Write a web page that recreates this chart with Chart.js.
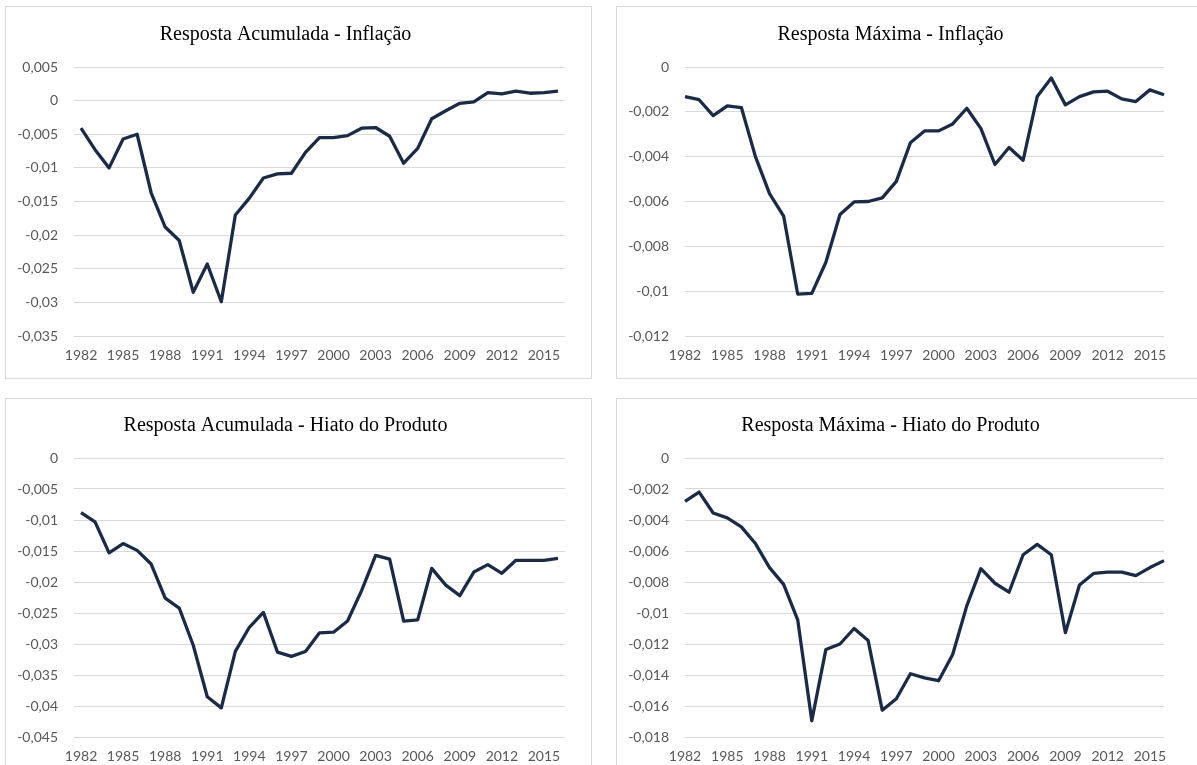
<!DOCTYPE html>
<html>
<head>
<meta charset="utf-8">
<script src="https://cdn.jsdelivr.net/npm/chart.js@4.4.1/dist/chart.umd.min.js"></script>
<style>
  html, body { margin: 0; padding: 0; background: #ffffff; overflow: hidden; }
  body { width: 1197px; height: 765px; position: relative; }
  .panel { position: absolute; border: 1px solid #d9d9d9; background: #fff; box-sizing: content-box; }
  .panel canvas { position: absolute; left: 0; top: 0; }
</style>
</head>
<body>
<div class="panel" id="p1" style="left:5px;top:6px;width:585px;height:371px;"><canvas id="c1"></canvas></div>
<div class="panel" id="p2" style="left:616px;top:6px;width:600px;height:371px;"><canvas id="c2"></canvas></div>
<div class="panel" id="p3" style="left:5px;top:398px;width:585px;height:380px;"><canvas id="c3"></canvas></div>
<div class="panel" id="p4" style="left:616px;top:398px;width:600px;height:380px;"><canvas id="c4"></canvas></div>
<script>
const years = [1982,1983,1984,1985,1986,1987,1988,1989,1990,1991,1992,1993,1994,1995,1996,1997,1998,1999,2000,2001,2002,2003,2004,2005,2006,2007,2008,2009,2010,2011,2012,2013,2014,2015,2016];

const titles = [
  "Resposta Acumulada - Inflação",
  "Resposta Máxima - Inflação",
  "Resposta Acumulada - Hiato do Produto",
  "Resposta Máxima - Hiato do Produto"
];

const acumInflacao = [-0.0041,-0.0073,-0.0100,-0.0057,-0.0050,-0.0137,-0.0188,-0.0208,-0.0285,-0.0243,-0.0299,-0.0170,-0.0145,-0.0115,-0.0109,-0.0108,-0.0077,-0.0055,-0.0055,-0.0052,-0.0041,-0.0040,-0.0053,-0.0093,-0.0071,-0.0027,-0.0015,-0.0004,-0.0002,0.0012,0.0010,0.0014,0.0011,0.0012,0.0014];

const maxInflacao = [-0.00132,-0.00146,-0.00217,-0.00173,-0.00181,-0.0040,-0.00565,-0.00665,-0.01013,-0.0101,-0.00871,-0.00658,-0.00602,-0.0060,-0.00584,-0.0051,-0.00338,-0.00285,-0.00285,-0.00254,-0.00184,-0.00274,-0.00435,-0.00359,-0.00416,-0.00132,-0.00049,-0.00169,-0.00132,-0.00111,-0.00108,-0.00142,-0.00154,-0.00102,-0.00124];

const acumHiato = [-0.0088,-0.0103,-0.0153,-0.0138,-0.0149,-0.0171,-0.0226,-0.0242,-0.0302,-0.0385,-0.0403,-0.0312,-0.0273,-0.0249,-0.0313,-0.0320,-0.0312,-0.0282,-0.0281,-0.0263,-0.0214,-0.0157,-0.0163,-0.0263,-0.0261,-0.0178,-0.0205,-0.0222,-0.0184,-0.0172,-0.0186,-0.0165,-0.0165,-0.0165,-0.0162];

const maxHiato = [-0.0028,-0.0022,-0.00355,-0.00386,-0.00444,-0.00552,-0.00707,-0.00815,-0.01044,-0.01695,-0.01235,-0.0120,-0.0110,-0.01178,-0.01627,-0.01553,-0.01392,-0.01419,-0.01437,-0.01268,-0.00954,-0.00714,-0.00808,-0.00866,-0.00624,-0.00557,-0.00624,-0.01127,-0.00819,-0.00745,-0.00736,-0.00736,-0.00759,-0.00707,-0.00662];

const yMin = [-0.035, -0.012, -0.045, -0.018];
const yMax = [0.005, 0, 0, 0];
const yStep = [0.005, 0.002, 0.005, 0.002];
const xLabelEvery = 3;

const seriesList = [acumInflacao, maxInflacao, acumHiato, maxHiato];
const offsets = [true, false, true, false];
const canvasSizes = [[585,371],[600,371],[585,380],[600,380]];
const rightPad = [26, 53, 26, 53];

function fmt(v) {
  const r = Number(v.toFixed(4));
  if (r === 0) return "0";
  return String(r).replace(".", ",");
}

for (let i = 0; i < 4; i++) {
  const cv = document.getElementById("c" + (i + 1));
  cv.width = canvasSizes[i][0];
  cv.height = canvasSizes[i][1];
  cv.style.width = canvasSizes[i][0] + "px";
  cv.style.height = canvasSizes[i][1] + "px";
  new Chart(cv, {
    type: "line",
    data: {
      labels: years.map(String),
      datasets: [{
        data: seriesList[i],
        borderColor: "#1c2b45",
        borderWidth: 3.3,
        pointRadius: 0,
        tension: 0,
        borderJoinStyle: "round",
        borderCapStyle: "butt",
        fill: false
      }]
    },
    options: {
      responsive: false,
      animation: false,
      devicePixelRatio: 1,
      layout: { padding: { left: 0, right: rightPad[i], top: 0, bottom: 0 } },
      plugins: {
        legend: { display: false },
        tooltip: { enabled: false },
        title: {
          display: true,
          text: titles[i],
          color: "#000000",
          font: { family: "'Liberation Serif', 'Times New Roman', serif", size: 20, weight: "normal" },
          padding: { top: i < 2 ? 16 : 15, bottom: i < 2 ? 20 : 20 }
        }
      },
      scales: {
        x: {
          offset: offsets[i],
          grid: { display: false, drawTicks: false },
          border: { display: false },
          ticks: {
            autoSkip: false,
            maxRotation: 0,
            minRotation: 0,
            padding: 11,
            color: "#595959",
            font: { family: "Lato, 'Open Sans', sans-serif", size: 14 },
            callback: function(val, idx) { return idx % xLabelEvery === 0 ? years[idx] : ""; }
          },
          afterFit: function(s) { s.height = 42; }
        },
        y: {
          min: yMin[i],
          max: yMax[i],
          grid: { color: "#d9d9d9", lineWidth: 1, drawTicks: false },
          border: { display: false },
          ticks: {
            stepSize: yStep[i],
            padding: 16,
            color: "#595959",
            font: { family: "Lato, 'Open Sans', sans-serif", size: 14 },
            callback: function(v) { return fmt(v); }
          },
          afterFit: function(s) { s.width = 68; }
        }
      }
    }
  });
}
</script>
</body>
</html>
